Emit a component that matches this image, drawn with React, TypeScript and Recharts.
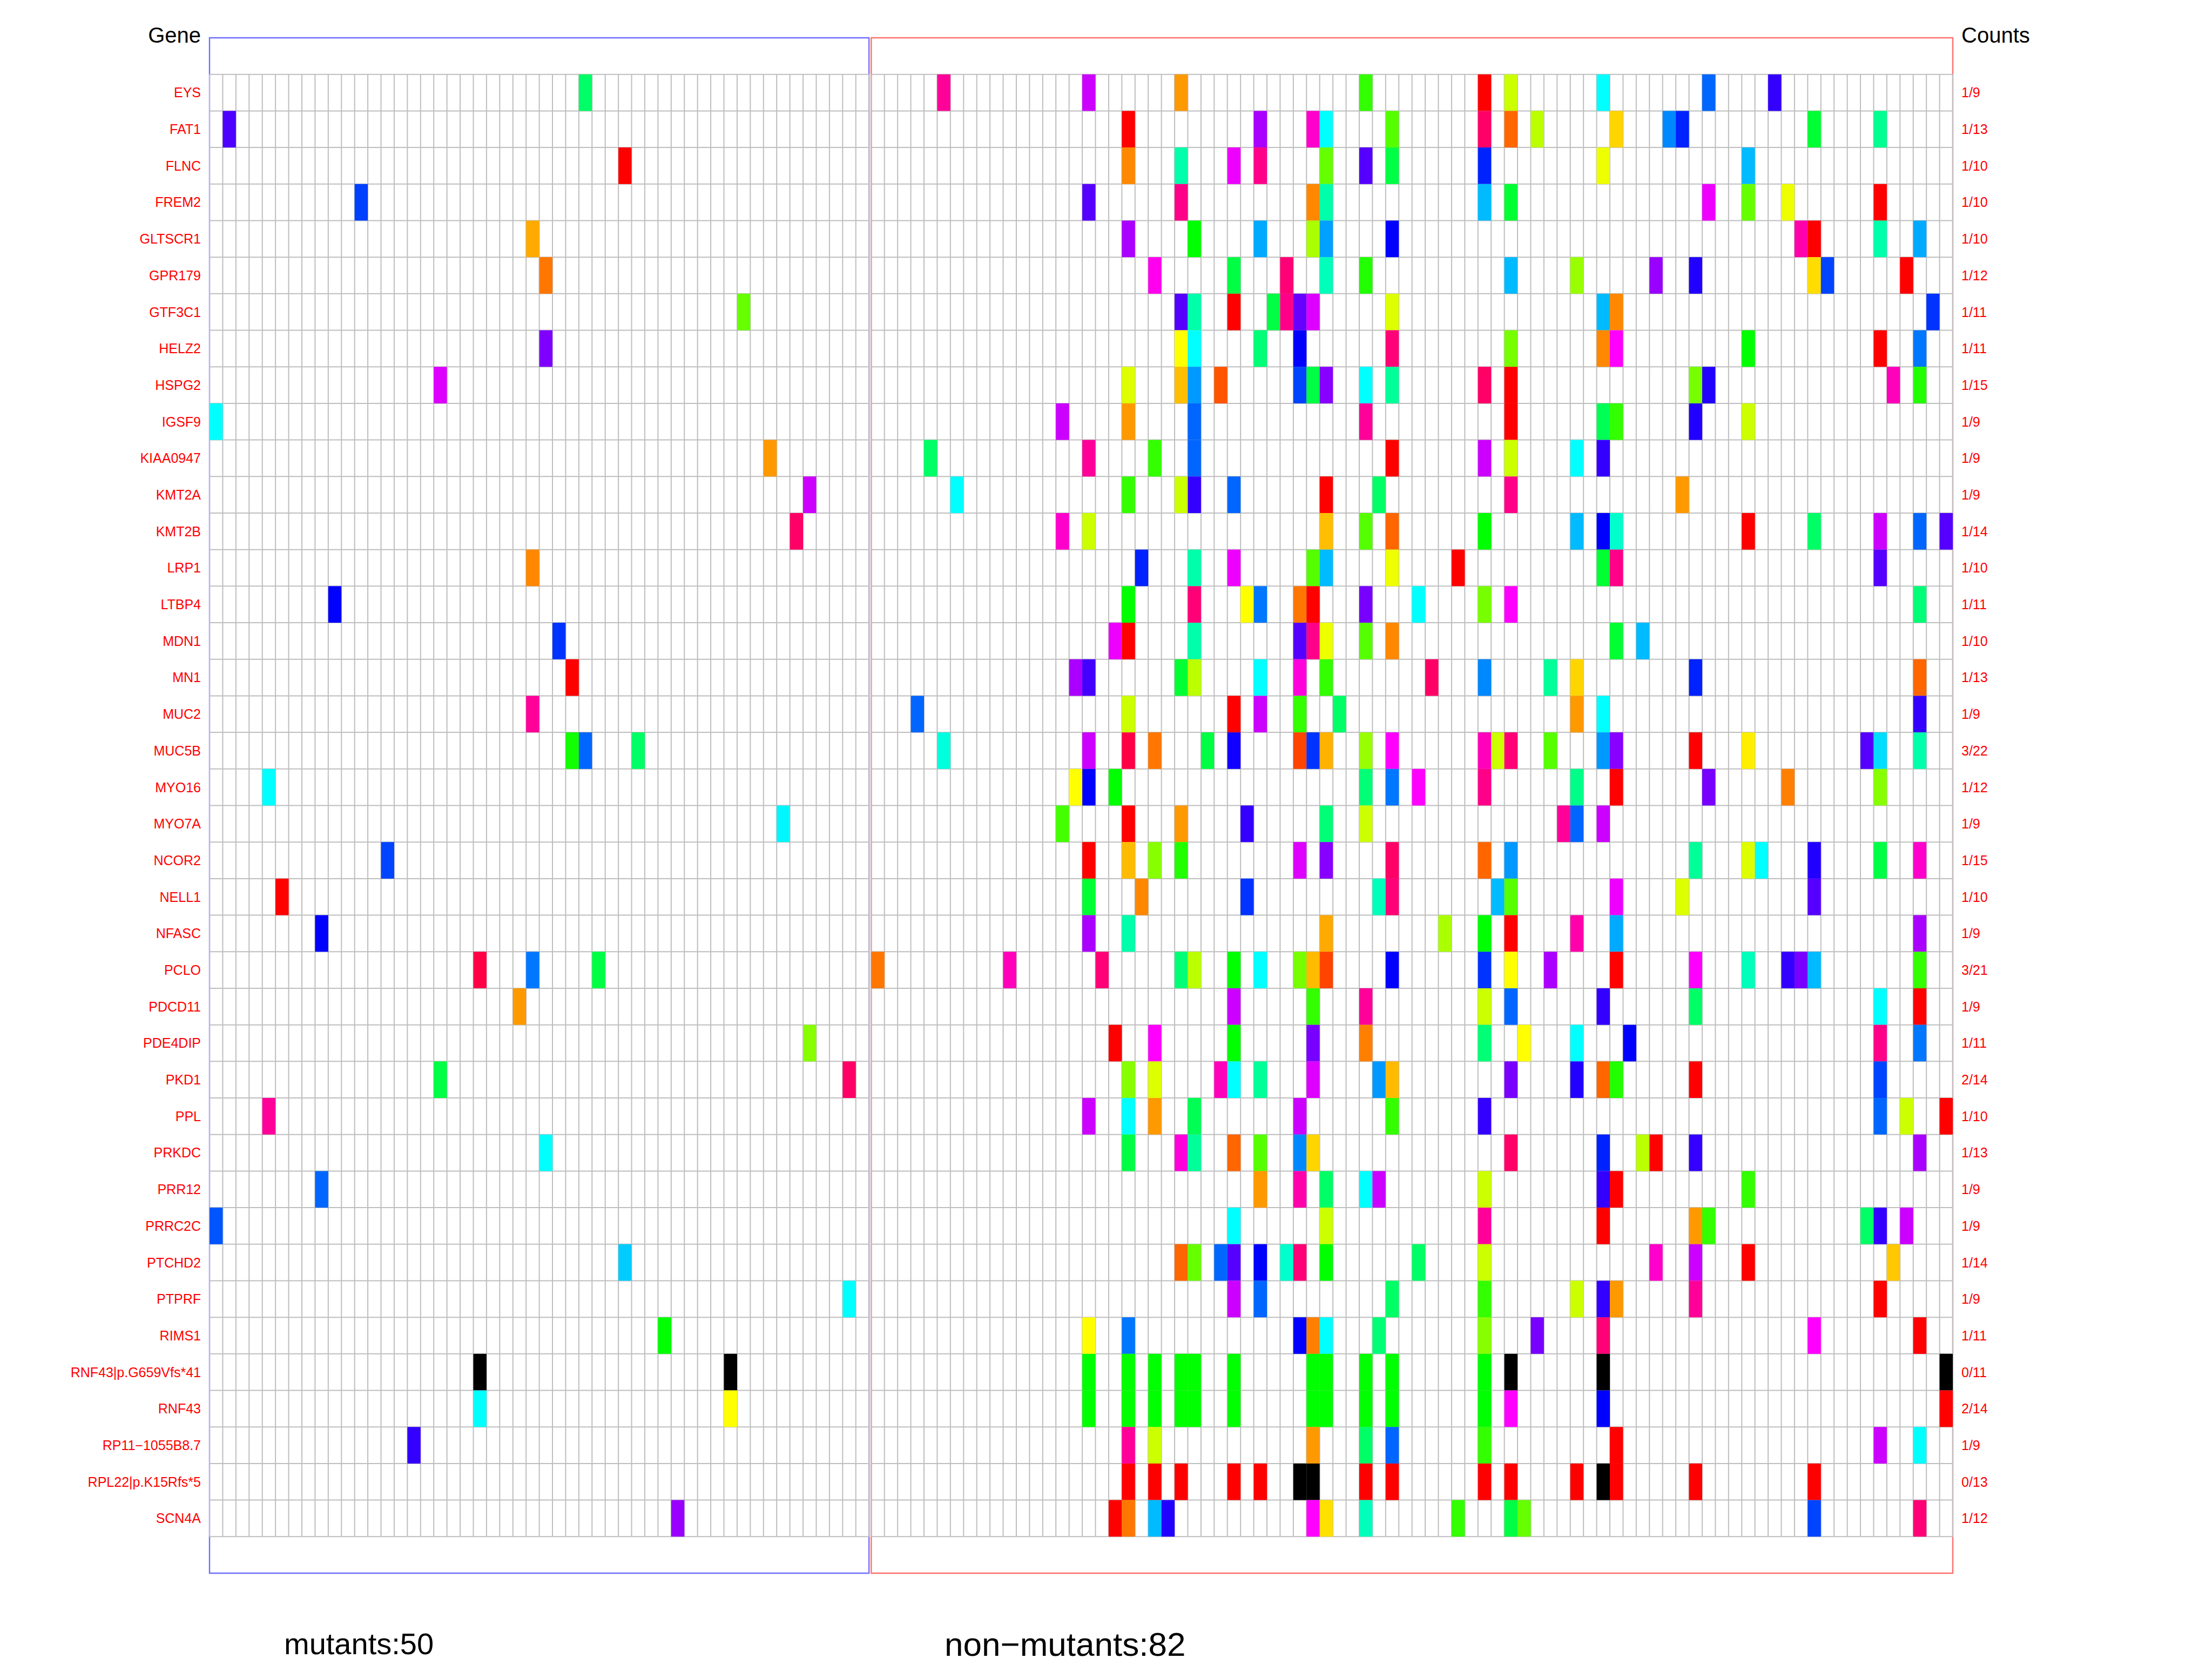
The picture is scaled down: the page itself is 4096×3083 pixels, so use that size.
import React from "react";
import { ScatterChart, Scatter, XAxis, YAxis, ReferenceLine, ReferenceArea } from "recharts";

// rows of the mutation matrix (top to bottom)
const genes = [
  "EYS", "FAT1", "FLNC", "FREM2", "GLTSCR1", "GPR179", "GTF3C1", "HELZ2", "HSPG2", "IGSF9",
  "KIAA0947", "KMT2A", "KMT2B", "LRP1", "LTBP4", "MDN1", "MN1", "MUC2", "MUC5B", "MYO16",
  "MYO7A", "NCOR2", "NELL1", "NFASC", "PCLO", "PDCD11", "PDE4DIP", "PKD1", "PPL", "PRKDC",
  "PRR12", "PRRC2C", "PTCHD2", "PTPRF", "RIMS1", "RNF43|p.G659Vfs*41", "RNF43", "RP11\u22121055B8.7",
  "RPL22|p.K15Rfs*5", "SCN4A",
];

const counts = [
  "1/9", "1/13", "1/10", "1/10", "1/10", "1/12", "1/11", "1/11", "1/15", "1/9",
  "1/9", "1/9", "1/14", "1/10", "1/11", "1/10", "1/13", "1/9", "3/22", "1/12",
  "1/9", "1/15", "1/10", "1/9", "3/21", "1/9", "1/11", "2/14", "1/10", "1/13",
  "1/9", "1/9", "1/14", "1/9", "1/11", "0/11", "2/14", "1/9", "0/13", "1/12",
];

const MUTANTS = 50;
const NON_MUTANTS = 82;

// [sample column, hue]  (hue -1 = black)
const mutantHits: [number, number][][] = [
  [[28, 144]], [[1, 258]], [[31, 0]], [[11, 225]], [[24, 40]],
  [[25, 28]], [[40, 96]], [[25, 270]], [[17, 292]], [[0, 180]],
  [[42, 36]], [[45, 288]], [[44, 336]], [[24, 32]], [[9, 240]],
  [[26, 228]], [[27, 0]], [[24, 324]], [[27, 116], [28, 216], [32, 144]], [[4, 180]],
  [[43, 182]], [[13, 224]], [[5, 0]], [[8, 240]], [[20, 344], [24, 212], [29, 136]],
  [[23, 36]], [[45, 88]], [[17, 136], [48, 336]], [[4, 324]], [[25, 180]],
  [[8, 216]], [[0, 220]], [[31, 192]], [[48, 180]], [[34, 120]],
  [[20, -1], [39, -1]], [[20, 180], [39, 60]], [[15, 252]], [], [[35, 276]],
];

const nonMutantHits: [number, number][][] = [
  [[5, 324], [16, 288], [23, 36], [37, 108], [46, 0], [48, 72], [55, 180], [63, 216], [68, 252]],
  [[19, 0], [29, 280], [33, 312], [34, 180], [39, 100], [46, 336], [48, 24], [50, 76], [56, 50], [60, 208], [61, 232], [71, 132], [76, 154]],
  [[19, 32], [23, 160], [27, 296], [29, 328], [34, 96], [37, 260], [39, 136], [46, 232], [55, 64], [66, 196]],
  [[16, 260], [23, 328], [33, 32], [34, 160], [46, 196], [48, 132], [63, 296], [66, 96], [69, 64], [76, 0]],
  [[19, 280], [24, 120], [29, 200], [33, 80], [34, 202], [39, 240], [70, 320], [71, 0], [76, 160], [79, 200]],
  [[21, 304], [27, 136], [31, 332], [34, 164], [37, 112], [48, 196], [53, 84], [59, 276], [62, 248], [71, 52], [72, 224], [78, 0]],
  [[23, 260], [24, 160], [27, 0], [30, 136], [31, 328], [32, 264], [33, 292], [39, 68], [55, 196], [56, 32], [80, 228]],
  [[23, 60], [24, 180], [29, 148], [32, 240], [39, 332], [48, 92], [55, 32], [56, 300], [66, 120], [76, 0], [79, 212]],
  [[19, 68], [23, 45], [24, 204], [26, 20], [32, 224], [33, 136], [34, 272], [37, 180], [39, 156], [46, 336], [48, 0], [62, 92], [63, 248], [77, 316], [79, 112]],
  [[14, 288], [19, 36], [24, 216], [37, 324], [48, 0], [55, 140], [56, 108], [62, 248], [66, 72]],
  [[4, 144], [16, 324], [21, 108], [24, 216], [39, 0], [46, 288], [48, 72], [53, 180], [55, 252]],
  [[6, 180], [19, 108], [23, 72], [24, 252], [27, 216], [34, 0], [38, 144], [48, 328], [61, 36]],
  [[14, 312], [16, 72], [34, 45], [37, 100], [39, 24], [46, 120], [53, 196], [55, 240], [56, 168], [66, 0], [71, 144], [76, 288], [79, 216], [81, 260]],
  [[20, 232], [24, 160], [27, 296], [33, 100], [34, 196], [39, 64], [44, 0], [55, 132], [56, 328], [76, 260]],
  [[19, 120], [24, 332], [28, 60], [29, 212], [32, 28], [33, 0], [37, 268], [41, 180], [46, 92], [48, 300], [79, 148]],
  [[18, 296], [19, 0], [24, 160], [32, 260], [33, 328], [34, 64], [37, 100], [39, 32], [56, 132], [58, 196]],
  [[15, 280], [16, 256], [23, 132], [24, 76], [29, 180], [32, 308], [34, 108], [42, 336], [46, 208], [51, 156], [53, 50], [62, 232], [79, 24]],
  [[3, 216], [19, 72], [27, 0], [29, 288], [32, 108], [35, 144], [53, 36], [55, 180], [79, 252]],
  [[5, 172], [16, 288], [19, 344], [21, 28], [25, 136], [27, 244], [32, 16], [33, 228], [34, 42], [37, 84], [39, 300],
    [46, 316], [47, 72], [48, 332], [51, 100], [55, 204], [56, 272], [62, 0], [66, 56], [75, 260], [76, 188], [79, 160]],
  [[15, 60], [16, 240], [18, 120], [37, 148], [39, 212], [41, 300], [46, 328], [53, 152], [56, 0], [63, 268], [69, 30], [76, 88]],
  [[14, 104], [19, 0], [23, 36], [28, 252], [34, 148], [37, 72], [52, 324], [53, 216], [55, 288]],
  [[16, 0], [19, 44], [21, 88], [23, 112], [32, 292], [34, 272], [39, 336], [46, 24], [48, 204], [62, 156], [66, 68], [67, 180], [71, 248], [76, 136], [79, 312]],
  [[16, 132], [20, 32], [28, 228], [38, 164], [39, 332], [47, 196], [48, 100], [56, 296], [61, 68], [71, 260]],
  [[16, 280], [19, 160], [34, 40], [43, 80], [46, 120], [48, 0], [53, 320], [56, 200], [79, 280]],
  [[0, 28], [10, 316], [17, 332], [23, 148], [24, 76], [27, 120], [29, 180], [32, 92], [33, 44], [34, 16], [39, 240],
    [46, 228], [48, 60], [51, 280], [56, 0], [62, 300], [66, 164], [69, 252], [70, 268], [71, 196], [79, 108]],
  [[27, 288], [33, 108], [37, 324], [46, 72], [48, 216], [55, 252], [62, 144], [76, 180], [79, 0]],
  [[18, 0], [21, 300], [27, 120], [33, 268], [37, 30], [46, 148], [49, 60], [53, 180], [57, 240], [76, 328], [79, 212]],
  [[19, 88], [21, 68], [26, 316], [27, 180], [29, 156], [33, 292], [38, 204], [39, 44], [48, 268], [53, 248], [55, 24], [56, 112], [62, 0], [76, 224]],
  [[16, 288], [19, 180], [21, 36], [24, 140], [32, 288], [39, 108], [46, 252], [76, 216], [78, 72], [81, 0]],
  [[19, 136], [23, 308], [24, 156], [27, 24], [29, 100], [32, 208], [33, 50], [48, 336], [55, 232], [58, 76], [59, 0], [62, 252], [79, 280]],
  [[29, 36], [32, 320], [34, 144], [37, 180], [38, 288], [46, 72], [55, 252], [56, 0], [66, 108]],
  [[27, 180], [34, 72], [46, 324], [55, 0], [62, 36], [63, 108], [75, 144], [76, 252], [78, 288]],
  [[23, 24], [24, 96], [26, 216], [27, 260], [29, 240], [31, 168], [32, 332], [34, 120], [41, 144], [46, 72], [59, 312], [62, 288], [66, 0], [77, 47]],
  [[27, 288], [29, 216], [39, 144], [46, 108], [53, 72], [55, 252], [56, 36], [62, 324], [76, 0]],
  [[16, 60], [19, 212], [32, 240], [33, 30], [34, 180], [38, 148], [46, 88], [50, 268], [55, 332], [71, 300], [79, 0]],
  [[16, 120], [19, 120], [21, 120], [23, 120], [24, 120], [27, 120], [33, 120], [34, 120], [37, 120], [39, 120], [46, 120], [48, -1], [55, -1], [81, -1]],
  [[16, 120], [19, 120], [21, 120], [23, 120], [24, 120], [27, 120], [33, 120], [34, 120], [37, 120], [39, 120], [46, 120], [48, 300], [55, 240], [81, 0]],
  [[19, 324], [21, 72], [33, 36], [37, 144], [39, 216], [46, 108], [56, 0], [76, 288], [79, 180]],
  [[19, 0], [21, 0], [23, 0], [27, 0], [29, 0], [32, -1], [33, -1], [37, 0], [39, 0], [46, 0], [48, 0], [53, 0], [55, -1], [56, 0], [62, 0], [71, 0]],
  [[18, 0], [19, 28], [21, 196], [22, 248], [33, 300], [34, 53], [37, 164], [44, 108], [48, 136], [49, 96], [71, 224], [79, 332]],
];

const W = 4096;
const H = 3083;
const FONT = "'Liberation Sans', Arial, Helvetica, sans-serif";
const GAP = 0.17; // small space between the two sample boxes
const NM0 = MUTANTS + GAP;
const XMAX = NM0 + NON_MUTANTS;
const margin = { top: 70, right: 0, bottom: 170, left: 0 };
const LEFT_W = 388;
const RIGHT_W = 480;
const cellW = (W - LEFT_W - RIGHT_W) / XMAX;
const cellH = (H - margin.top - margin.bottom) / (genes.length + 2);
const GRID = "#BEBEBE";

const hueColor = (h: number) => (h < 0 ? "#000000" : `hsl(${h}, 100%, 50%)`);

const cells: { x: number; y: number; fill: string }[] = [];
genes.forEach((_, r) => {
  mutantHits[r].forEach(([c, h]) => cells.push({ x: c + 0.5, y: r + 0.5, fill: hueColor(h) }));
  nonMutantHits[r].forEach(([c, h]) => cells.push({ x: NM0 + c + 0.5, y: r + 0.5, fill: hueColor(h) }));
});

const rowCenters = genes.map((_, i) => i + 0.5);
const vLines = [
  ...Array.from({ length: MUTANTS + 1 }, (_, k) => k),
  ...Array.from({ length: NON_MUTANTS + 1 }, (_, k) => NM0 + k),
];
const hLines = Array.from({ length: genes.length + 1 }, (_, k) => k);

const CellShape = (props: any) => {
  const { cx, cy, payload } = props;
  return <rect x={cx - cellW / 2} y={cy - cellH / 2} width={cellW} height={cellH} fill={payload.fill} />;
};

export default function App() {
  return (
    <div style={{ position: "absolute", left: 0, top: 0, width: W, height: H, background: "#fff" }}>
      <ScatterChart width={W} height={H} margin={margin}>
        <XAxis type="number" dataKey="x" domain={[0, XMAX]} hide allowDataOverflow />
        <YAxis
          yAxisId="left"
          type="number"
          dataKey="y"
          domain={[-1, genes.length + 1]}
          reversed
          allowDataOverflow
          ticks={rowCenters}
          interval={0}
          width={LEFT_W}
          axisLine={false}
          tickLine={false}
          tickSize={0}
          tickMargin={16}
          tickFormatter={(v: number) => genes[Math.floor(v)]}
          tick={{ fill: "#FF0000", fontSize: 25, fontFamily: FONT }}
        />
        <YAxis
          yAxisId="right"
          orientation="right"
          type="number"
          domain={[-1, genes.length + 1]}
          reversed
          allowDataOverflow
          ticks={rowCenters}
          interval={0}
          width={RIGHT_W}
          axisLine={false}
          tickLine={false}
          tickSize={0}
          tickMargin={16}
          tickFormatter={(v: number) => counts[Math.floor(v)]}
          tick={{ fill: "#FF0000", fontSize: 25, fontFamily: FONT, textAnchor: "start" }}
        />
        <Scatter yAxisId="left" data={cells} shape={CellShape} isAnimationActive={false} />
        {vLines.map((x) => (
          <ReferenceLine
            key={`v${x}`}
            yAxisId="left"
            segment={[{ x, y: 0 }, { x, y: genes.length }]}
            stroke={GRID}
            strokeWidth={2}
          />
        ))}
        {hLines.map((y) => (
          <ReferenceLine
            key={`hm${y}`}
            yAxisId="left"
            segment={[{ x: 0, y }, { x: MUTANTS, y }]}
            stroke={GRID}
            strokeWidth={2}
          />
        ))}
        {hLines.map((y) => (
          <ReferenceLine
            key={`hn${y}`}
            yAxisId="left"
            segment={[{ x: NM0, y }, { x: XMAX, y }]}
            stroke={GRID}
            strokeWidth={2}
          />
        ))}
        <ReferenceArea yAxisId="left" x1={0} x2={MUTANTS} y1={-1} y2={genes.length + 1}
          fill="none" fillOpacity={0} stroke="#6E6EFF" strokeWidth={2.4} />
        <ReferenceArea yAxisId="left" x1={NM0} x2={XMAX} y1={-1} y2={genes.length + 1}
          fill="none" fillOpacity={0} stroke="#FF7070" strokeWidth={2.4} />
      </ScatterChart>
      <svg width={W} height={H} style={{ position: "absolute", left: 0, top: 0, pointerEvents: "none" }}>
        <g fontFamily={FONT} fill="#000">
          <text x={372} y={79} fontSize={40} textAnchor="end">Gene</text>
          <text x={3632} y={79} fontSize={40} textAnchor="start">Counts</text>
          <text x={526} y={3063} fontSize={56}>mutants:50</text>
          <text x={1749} y={3066} fontSize={62}>non{"\u2212"}mutants:82</text>
        </g>
      </svg>
    </div>
  );
}
